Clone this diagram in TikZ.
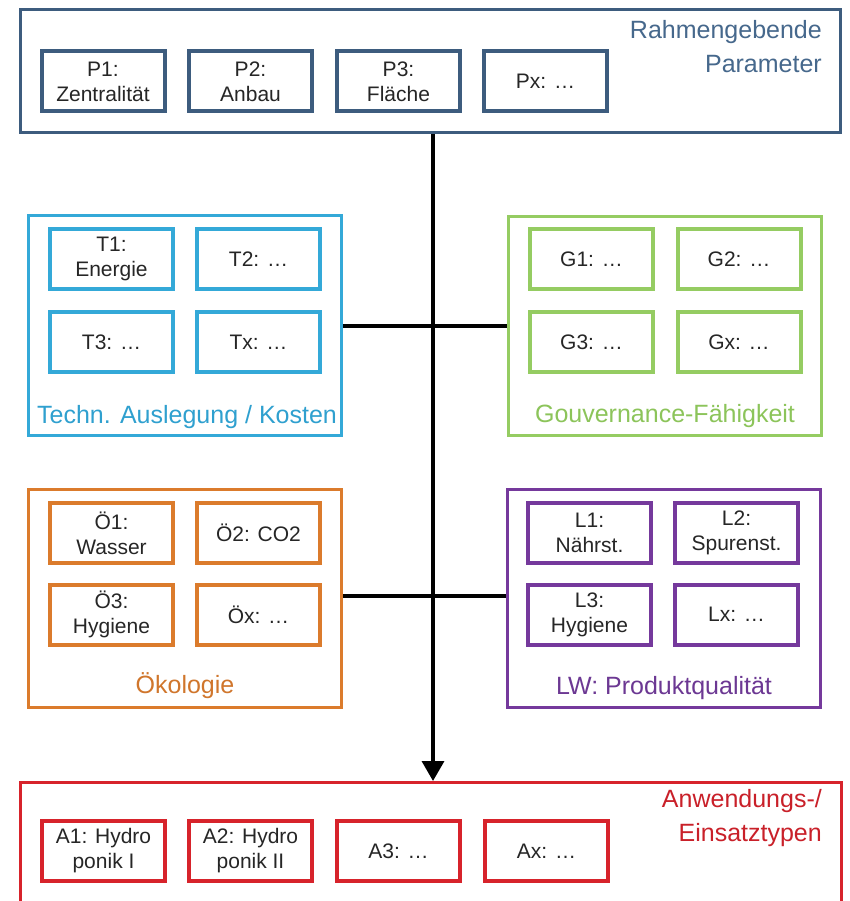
\documentclass[tikz,border=0pt]{standalone}
\usepackage{fontspec}
\setmainfont{Liberation Sans}
\usetikzlibrary{arrows.meta}
\definecolor{cblue}{HTML}{3D5C7E}
\definecolor{cblueT}{HTML}{46688C}
\definecolor{ccyan}{HTML}{34A9D8}
\definecolor{ccyanT}{HTML}{2FA0CF}
\definecolor{cgreen}{HTML}{95CC62}
\definecolor{cgreenT}{HTML}{8CC45A}
\definecolor{corange}{HTML}{DB7B2C}
\definecolor{corangeT}{HTML}{D0762C}
\definecolor{cpurple}{HTML}{75399C}
\definecolor{cpurpleT}{HTML}{6C3893}
\definecolor{cred}{HTML}{D7232B}
\definecolor{credT}{HTML}{C92029}
\definecolor{ctext}{HTML}{262626}
\begin{document}
\begin{tikzpicture}[x=1pt,y=-1pt,
  group/.style={draw=#1, line width=3pt, rectangle, inner sep=0pt},
  item/.style={draw=#1, line width=4pt, rectangle, inner sep=0pt,
    minimum width=123pt, minimum height=60pt, align=center, text=ctext,
    font=\fontsize{21}{25}\selectfont},
  glabel/.style={text=#1, font=\fontsize{25}{34}\selectfont, inner sep=0pt},
  link/.style={line width=3.5pt, draw=black}]
\useasboundingbox (0,0) rectangle (849,901);
\clip (0,0) rectangle (849,901);
\fill[white] (0,0) rectangle (849,901);

% groups
\node[group=cblue, minimum width=820pt, minimum height=123pt] (P) at (430.5,71) {};
\node[group=ccyan, minimum width=313pt, minimum height=220pt] (T) at (185,325.5) {};
\node[group=cgreen, minimum width=313pt, minimum height=219pt] (G) at (665,326) {};
\node[group=corange, minimum width=313pt, minimum height=218pt] (O) at (185,598.5) {};
\node[group=cpurple, minimum width=313pt, minimum height=218pt] (L) at (664,598.5) {};
\node[group=cred, minimum width=821pt, minimum height=155pt] (A) at (431,860) {};

% group labels
\node[glabel=cblueT, align=right, anchor=north east] (Plab) at (822,20.5) {Rahmengebende\\Parameter};
\node[glabel=ccyanT, anchor=base] (Tlab) at (187,423) {Techn. Auslegung / Kosten};
\node[glabel=cgreenT, anchor=base] (Glab) at (665,422) {Gouvernance-Fähigkeit};
\node[glabel=corangeT, anchor=base] (Olab) at (185,693) {Ökologie};
\node[glabel=cpurpleT, anchor=base] (Llab) at (664,694) {LW: Produktqualität};
\node[glabel=credT, align=right, anchor=north east] (Alab) at (822,789) {Anwendungs-/\\Einsatztypen};

% P items
\node[item=cblue] (P1) at (103,81.5) {P1:\\Zentralität};
\node[item=cblue] (P2) at (250.5,81.5) {P2:\\Anbau};
\node[item=cblue] (P3) at (398.5,81.5) {P3:\\Fläche};
\node[item=cblue] (Px) at (545.5,81.5) {Px: …};

% T items
\node[item=ccyan] (T1) at (111.5,259) {T1:\\Energie};
\node[item=ccyan] (T2) at (258.5,259) {T2: …};
\node[item=ccyan] (T3) at (111.5,342) {T3: …};
\node[item=ccyan] (Tx) at (258.5,342) {Tx: …};

% G items
\node[item=cgreen] (G1) at (591.5,259) {G1: …};
\node[item=cgreen] (G2) at (739,259) {G2: …};
\node[item=cgreen] (G3) at (591.5,342) {G3: …};
\node[item=cgreen] (Gx) at (739,342) {Gx: …};

% O items
\node[item=corange] (O1) at (111.5,533) {Ö1:\\Wasser};
\node[item=corange] (O2) at (258.5,533) {Ö2: CO2};
\node[item=corange] (O3) at (111.5,614.5) {Ö3:\\Hygiene};
\node[item=corange] (Ox) at (258.5,614.5) {Öx: …};

% L items
\node[item=cpurple] (L1) at (589.5,533) {L1:\\Nährst.};
\node[item=cpurple] (L2) at (736.5,533) {L2:\\Spurenst.};
\node[item=cpurple] (L3) at (589.5,614.5) {L3:\\Hygiene};
\node[item=cpurple] (Lx) at (736.5,614.5) {Lx: …};

% A items
\node[item=cred] (A1) at (103.5,851) {A1: Hydro\\ponik I};
\node[item=cred] (A2) at (250.5,851) {A2: Hydro\\ponik II};
\node[item=cred] (A3) at (398.5,851) {A3: …};
\node[item=cred] (Ax) at (546.5,851) {Ax: …};

% connectors
\coordinate (vx) at (433,0);
\coordinate (hy1) at (0,326);
\coordinate (hy2) at (0,596);
\draw[link] (T.east |- hy1) -- (G.west |- hy1);
\draw[link] (O.east |- hy2) -- (L.west |- hy2);
\draw[link, -{Triangle[width=22pt,length=20pt]}] (P.south -| vx) -- (A.north -| vx);
\end{tikzpicture}
\end{document}
